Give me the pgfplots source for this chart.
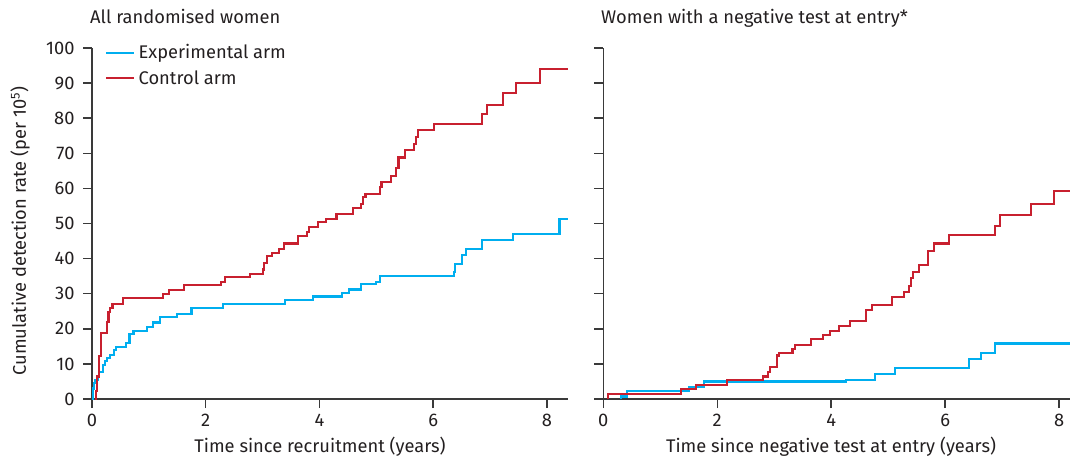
\documentclass[border=0pt]{standalone}
\usepackage{fontspec}
\setmainfont{Fira Sans}
\usepackage{pgfplots}
\pgfplotsset{compat=1.18}
\definecolor{cblue}{HTML}{00AEEF}
\definecolor{cred}{HTML}{C8202F}
\definecolor{axgray}{HTML}{3A3A3A}
\definecolor{txt}{HTML}{231F20}
\newcommand{\fs}{\fontsize{18.3}{22}\selectfont}
\pgfplotsset{
  myax/.style={
    scale only axis,
    height=351pt,
    ymin=0, ymax=100,
    axis lines=left,
    axis line style={-, axgray, line width=1.5pt},
    tick style={axgray, line width=1.5pt},
    tick align=outside,
    major tick length=9pt,
    ytick={0,10,20,30,40,50,60,70,80,90,100},
    xtick={0,2,4,6,8},
    xticklabels={0,2,4,6,8},
    ticklabel style={font=\fs, text=txt},
    yticklabel style={xshift=-5pt},
    xticklabel style={yshift=-3pt},
    every axis plot/.append style={const plot mark left, line width=2.1pt, mark=none},
  }
}
\begin{document}
\begin{tikzpicture}
\begin{axis}[myax, at={(92pt,62pt)}, anchor=south west,
  width=476pt, xmin=0, xmax=8.37,
  yticklabels={0,10,20,30,40,50,60,70,80,90,100},
  legend style={at={(rel axis cs:0.027,1.02)}, anchor=north west, draw=none, fill=none,
    font=\fs, text=txt, row sep=3pt, inner sep=0pt,
    nodes={inner sep=3.5pt, anchor=west}},
  legend cell align=left,
  legend image code/.code={\draw[#1, line width=2.1pt] (0pt,0pt) -- (28pt,0pt);},
]
\addplot[cblue] coordinates {(0,0) (0.01,3) (0.03,4.5) (0.06,5.4) (0.10,6.4) (0.13,7.8) (0.19,9.7) (0.23,10.8) (0.26,11.8) (0.32,12.5) (0.39,14) (0.42,14.9) (0.59,16) (0.66,18.5) (0.73,19.5) (0.97,20.6) (1.07,21.8) (1.2,23.3) (1.49,24.2) (1.75,26) (2.3,27.1) (3.39,28.2) (3.88,29.2) (4.40,30.1) (4.52,31.2) (4.73,32.8) (5.0,33.4) (5.07,35.0) (6.36,36.3) (6.39,38.5) (6.51,41.0) (6.58,42.7) (6.85,45.3) (7.41,47.0) (8.22,51.3) (8.37,51.3)};
\addlegendentry{Experimental arm}
\addplot[cred] coordinates {(0.06,0) (0.07,2.4) (0.09,6.4) (0.13,12.3) (0.16,18.9) (0.26,22) (0.29,24.9) (0.32,25.8) (0.36,27) (0.54,28.7) (1.25,29.8) (1.35,31) (1.61,32.4) (2.27,33.4) (2.34,34.7) (2.78,35.5) (3.0,36.9) (3.03,38.7) (3.08,40.8) (3.17,41.7) (3.29,42.8) (3.38,44.3) (3.62,46.5) (3.78,47.7) (3.81,48.9) (3.97,50.3) (4.12,51.2) (4.30,52.8) (4.59,54.3) (4.73,55.6) (4.77,57.6) (4.81,58.5) (5.06,60.3) (5.09,61.9) (5.25,63.6) (5.35,65.7) (5.39,68.8) (5.50,70.9) (5.66,72.6) (5.69,74.6) (5.74,76.6) (6.01,78.4) (6.86,81.1) (6.94,83.8) (7.22,87.2) (7.46,90.1) (7.88,93.9) (8.37,93.9)};
\addlegendentry{Control arm}
\end{axis}
\begin{axis}[myax, at={(603.3pt,62pt)}, anchor=south west,
  width=466.7pt, xmin=0, xmax=8.19, yticklabels={}]
\addplot[cblue] coordinates {(0.31,0) (0.31,0.7) (0.41,2.4) (1.50,3.5) (1.77,5.0) (4.26,5.4) (4.76,7.0) (5.12,8.8) (6.41,11.5) (6.63,13.2) (6.87,15.8) (8.19,15.8)};
\addplot[cred] coordinates {(0.08,0) (0.08,1.5) (1.37,2.8) (1.62,3.9) (2.17,5.4) (2.81,6.4) (2.89,7.8) (2.92,9.2) (3.05,12.4) (3.08,13.2) (3.32,14.3) (3.37,15.4) (3.64,17.0) (3.85,18.2) (3.98,19.3) (4.14,20.7) (4.33,22.3) (4.61,25.3) (4.72,26.7) (5.06,29.0) (5.27,30.4) (5.36,32.3) (5.40,34.5) (5.43,36.2) (5.54,38.2) (5.70,42.1) (5.80,44.3) (6.06,46.6) (6.88,49.2) (6.96,52.5) (7.50,55.6) (7.91,59.3) (8.19,59.3)};
\end{axis}
\node[font=\fs, text=txt, anchor=base west, inner sep=0pt] at (90pt,461pt-24pt) {All randomised women};
\node[font=\fs, text=txt, anchor=base west, inner sep=0pt] at (601pt,461pt-24pt) {Women with a negative test at entry*};
\node[font=\fs, text=txt, anchor=base, inner sep=0pt] at (320pt,461pt-452pt) {Time since recruitment (years)};
\node[font=\fs, text=txt, anchor=base, inner sep=0pt] at (831pt,461pt-452pt) {Time since negative test at entry (years)};
\node[font=\fs, text=txt, rotate=90, inner sep=0pt] at (20pt,461pt-231pt) {Cumulative detection rate (per 10\textsuperscript{5})};
\pgfresetboundingbox
\path (0pt,0pt) rectangle (1070pt,461pt);
\end{tikzpicture}
\end{document}
